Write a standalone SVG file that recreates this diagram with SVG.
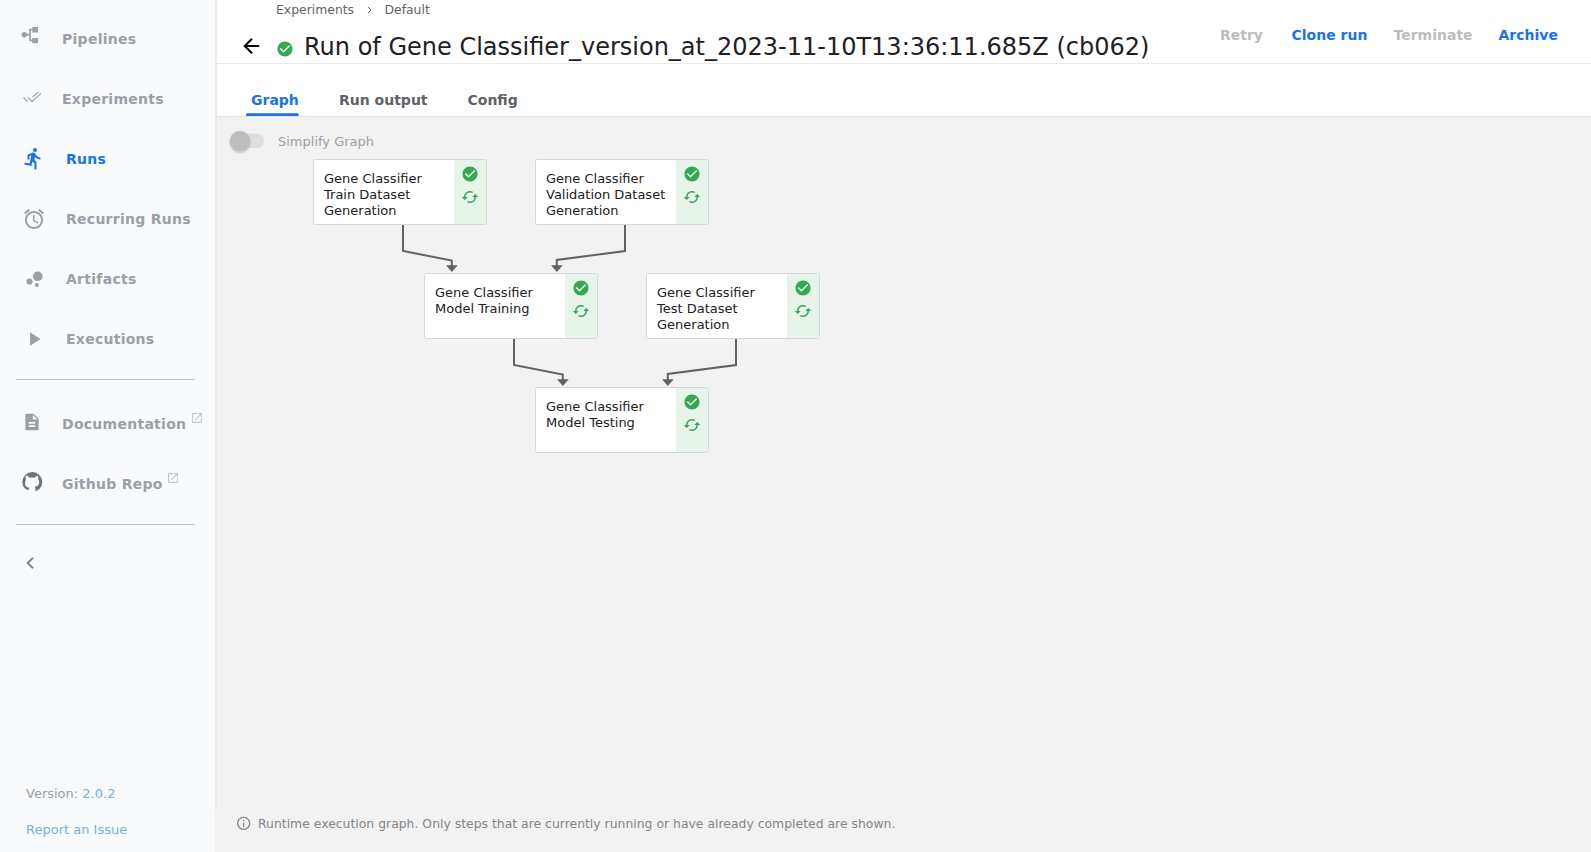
<svg xmlns="http://www.w3.org/2000/svg" width="1591" height="852" viewBox="0 0 1591 852">
<style>
text{font-family:"DejaVu Sans",sans-serif}
.nav{font-size:14px;font-weight:700;fill:#9aa0a6;letter-spacing:.27px}
.tab{font-size:14px;font-weight:700;fill:#5f6368}
.act{font-size:14px;font-weight:700}
.lbl{font-size:13px;fill:#202124}
.box{fill:#fff;stroke:#d5d7d9;stroke-width:1}
.strip{fill:#e6f4ea}
.edge{fill:none;stroke:#5f6368;stroke-width:2}
.head{fill:#5f6368}
.ok{fill:#34a853}
.ic{fill:#9aa0a6}
</style>
<defs>
<path id="check" d="M12 2C6.48 2 2 6.48 2 12s4.48 10 10 10 10-4.48 10-10S17.52 2 12 2zm-2 15l-5-5 1.41-1.41L10 14.17l7.59-7.59L19 8l-9 9z"/>
<g id="status">
<use href="#check" class="ok" transform="translate(-9,-9) scale(.75)"/>
<path class="ok" transform="translate(-9,14) scale(.75)" d="M19 8l-4 4h3c0 3.31-2.69 6-6 6-1.01 0-1.97-.25-2.8-.7l-1.46 1.46C8.97 19.54 10.43 20 12 20c4.42 0 8-3.58 8-8h3l-4-4zM6 12c0-3.31 2.69-6 6-6 1.01 0 1.97.25 2.8.7l1.46-1.46C15.03 4.46 13.57 4 12 4c-4.42 0-8 3.58-8 8H1l4 4 4-4H6z"/>
</g>
<path id="ext" transform="scale(.55) translate(-12,-12)" fill="#c4c6c9" d="M19 19H5V5h7V3H5c-1.11 0-2 .9-2 2v14c0 1.1.89 2 2 2h14c1.1 0 2-.9 2-2v-7h-2v7zM14 3v2h3.59l-9.83 9.83 1.41 1.41L19 6.41V10h2V3h-7z"/>
<filter id="sh" x="-30%" y="-30%" width="160%" height="170%"><feDropShadow dx="0" dy="1" stdDeviation="1" flood-color="#000" flood-opacity=".25"/></filter>
</defs>
<rect width="1591" height="852" fill="#fff"/>
<rect id="sidebar" x="0" y="0" width="215" height="852" fill="#f8fafc"/>
<rect x="217" y="117" width="1374" height="735" fill="#f2f2f2"/>
<rect x="215" y="811" width="2" height="41" fill="#f2f2f2"/>
<rect x="215" y="0" width="2" height="811" fill="#e8eaed"/>
<rect x="217" y="116" width="1374" height="1" fill="#e4e4e4"/>
<rect x="217" y="63" width="1374" height="1" fill="#eaeaea"/>

<g id="nav">
<g id="nav-pipelines"><circle cx="24.300" cy="34.700" r="2.700" class="ic"/><path d="M26 34.700H30M34 29.500H30V40.500H34" fill="none" stroke="#9aa0a6" stroke-width="1.700"/><rect x="32.300" y="27" width="5.700" height="5.500" class="ic"/><rect x="32.300" y="38" width="5.700" height="5.200" class="ic"/><text x="62" y="44" class="nav">Pipelines</text></g>
<g id="nav-experiments"><path d="M23.500 97.500L27.500 101.500M28 97.500L32 101.500L41 93.500M32.500 97L38.500 92" fill="none" stroke="#a3a8ad" stroke-width="1.300"/><text x="62" y="104" class="nav">Experiments</text></g>
<g id="nav-runs"><path transform="translate(21.500,146.500)" fill="#1a73e8" d="M13.490 5.480c1.100 0 2-.9 2-2s-.9-2-2-2-2 .9-2 2 .9 2 2 2zm-3.600 13.900l1-4.400 2.100 2v6h2v-7.500l-2.100-2 .6-3c1.300 1.500 3.300 2.500 5.500 2.500v-2c-1.900 0-3.500-1-4.300-2.400l-1-1.600c-.4-.6-1-1-1.700-1-.3 0-.5.1-.8.1l-5.200 2.200v4.700h2v-3.400l1.800-.7-1.600 8.100-4.900-1-.4 2 7 1.400z"/><text x="66" y="164" class="nav" style="fill:#1a73e8">Runs</text></g>
<g id="nav-recurring"><path transform="translate(22,207)" class="ic" d="M22 5.720l-4.600-3.860-1.290 1.530 4.600 3.860L22 5.720zM7.880 3.390L6.600 1.860 2 5.710l1.290 1.530 4.590-3.850zM12.500 8H11v6l4.750 2.850.75-1.230-4-2.370V8zM12 4c-4.970 0-9 4.030-9 9s4.030 9 9 9 9-4.030 9-9-4.030-9-9-9zm0 16c-3.870 0-7-3.130-7-7s3.130-7 7-7 7 3.130 7 7-3.130 7-7 7z"/><text x="66" y="224" class="nav">Recurring Runs</text></g>
<g id="nav-artifacts"><circle cx="37.700" cy="276.300" r="4.800" class="ic"/><circle cx="29.500" cy="281.500" r="3.100" class="ic"/><circle cx="36.800" cy="285" r="2" class="ic"/><text x="66" y="284" class="nav">Artifacts</text></g>
<g id="nav-executions"><path d="M30 332.300v13.400l10.700-6.700Z" class="ic"/><text x="66" y="344" class="nav">Executions</text></g>
<rect x="16" y="379" width="179" height="1" fill="#bdc1c6"/>
<g id="nav-docs"><path transform="translate(22,412) scale(.8333)" class="ic" d="M14 2H6c-1.100 0-1.990.9-1.990 2L4 20c0 1.100.89 2 1.990 2H18c1.100 0 2-.9 2-2V8l-6-6zm2 16H8v-2h8v2zm0-4H8v-2h8v2zm-3-5V3.500L18.500 9H13z"/><text x="62" y="429" class="nav">Documentation</text><use href="#ext" x="197" y="418"/></g>
<g id="nav-github"><circle cx="32.300" cy="482" r="10" fill="#6f7377"/><path fill="#f8fafc" d="M26.700 475.500l3.600 2.200q2-.5 4 0l3.600-2.200q.6 2 .3 3.500q1.300 1.700 .9 4.200q-.7 3.200 -4.500 3.600q.9 .9 .9 2.400v3h-1.500v2h-5.400v-2l-1.200 0q-2.500 0-3.500-2.300l2-1.200q1 1.500 2.800 1.300q0-1.500 .8-2.200q-3.800-.4-4.500-3.600q-.4-2.500 .9-4.200q-.3-1.500 -.2-4.500Z"/><text x="62" y="489" class="nav">Github Repo</text><use href="#ext" x="173" y="478"/></g>
<rect x="16" y="524" width="179" height="1" fill="#bdc1c6"/>
<path id="collapse" transform="translate(18.300,551)" fill="#80868b" d="M15.410 7.410L14 6l-6 6 6 6 1.410-1.410L10.830 12z"/>
<text x="26" y="798" font-size="13" fill="#9aa0a6">Version: <tspan fill="#7baee0">2.0.2</tspan></text>
<text x="26" y="834" font-size="13" fill="#7baee0">Report an Issue</text>
</g>

<g id="header">
<text x="276" y="14" font-size="12.400" fill="#5f6368">Experiments</text>
<path d="M368 7l3 3-3 3" fill="none" stroke="#5f6368" stroke-width="1"/>
<text x="384.500" y="14" font-size="12.400" fill="#5f6368">Default</text>
<path transform="translate(239.300,34)" fill="#000" d="M20 11H7.830l5.590-5.590L12 4l-8 8 8 8 1.410-1.410L7.830 13H20v-2z"/>
<use href="#check" class="ok" transform="translate(276,40) scale(.75)"/>
<text x="304" y="55" font-size="24" fill="#202124">Run of Gene Classifier_version_at_2023-11-10T13:36:11.685Z (cb062)</text>
<text x="1220" y="40" class="act" fill="#bdbdbd">Retry</text>
<text x="1291.500" y="40" class="act" fill="#1a73e8">Clone run</text>
<text x="1393.500" y="40" class="act" fill="#bdbdbd">Terminate</text>
<text x="1498.500" y="40" class="act" fill="#1a73e8">Archive</text>
<text x="251" y="105" class="tab" style="fill:#1a73e8">Graph</text>
<text x="339" y="105" class="tab">Run output</text>
<text x="467.500" y="105" class="tab">Config</text>
<path d="M246 116v-1.200a1.500 1.500 0 0 1 1.500-1.500h49.700a1.500 1.500 0 0 1 1.500 1.500V116Z" fill="#1a73e8"/>
<rect x="230" y="133.500" width="34" height="14.500" rx="7.200" fill="#dedede"/>
<circle cx="240" cy="141.200" r="10.300" fill="#bdbdbd" filter="url(#sh)"/>
<text x="278" y="146" font-size="13" fill="#9aa0a6">Simplify Graph</text>
</g>

<g id="connectors">
<path class="edge" d="M403 225V251L451.800 260.500V267"/><path class="head" d="M446 265.300h11.700l-5.850 6.700Z"/>
<path class="edge" d="M625 225V251L556.800 260V267"/><path class="head" d="M551 265.300h11.700l-5.850 6.700Z"/>
<path class="edge" d="M514 339V365L562.800 374.500V381"/><path class="head" d="M557 379.300h11.700l-5.850 6.700Z"/>
<path class="edge" d="M736 339V365L667.800 374V381"/><path class="head" d="M662 379.300h11.700l-5.850 6.700Z"/>
</g>

<g id="node-train"><rect class="box" x="313.500" y="159.500" width="173" height="65" rx="2"/><path class="strip" d="M454 160h32v64h-32Z"/><text class="lbl" x="324" y="183">Gene Classifier</text><text class="lbl" x="324" y="199">Train Dataset</text><text class="lbl" x="324" y="215">Generation</text><use href="#status" x="470" y="174"/></g>
<g id="node-validation"><rect class="box" x="535.500" y="159.500" width="173" height="65" rx="2"/><path class="strip" d="M676 160h32v64h-32Z"/><text class="lbl" x="546" y="183">Gene Classifier</text><text class="lbl" x="546" y="199">Validation Dataset</text><text class="lbl" x="546" y="215">Generation</text><use href="#status" x="692" y="174"/></g>
<g id="node-training"><rect class="box" x="424.500" y="273.500" width="173" height="65" rx="2"/><path class="strip" d="M565 274h32v64h-32Z"/><text class="lbl" x="435" y="297">Gene Classifier</text><text class="lbl" x="435" y="313">Model Training</text><use href="#status" x="581" y="288"/></g>
<g id="node-test"><rect class="box" x="646.500" y="273.500" width="173" height="65" rx="2"/><path class="strip" d="M787 274h32v64h-32Z"/><text class="lbl" x="657" y="297">Gene Classifier</text><text class="lbl" x="657" y="313">Test Dataset</text><text class="lbl" x="657" y="329">Generation</text><use href="#status" x="803" y="288"/></g>
<g id="node-testing"><rect class="box" x="535.500" y="387.500" width="173" height="65" rx="2"/><path class="strip" d="M676 388h32v64h-32Z"/><text class="lbl" x="546" y="411">Gene Classifier</text><text class="lbl" x="546" y="427">Model Testing</text><use href="#status" x="692" y="402"/></g>

<g id="footer">
<path transform="translate(235.700,815.300) scale(.667)" fill="#80868b" d="M11 7h2v2h-2zm0 4h2v6h-2zm1-9C6.480 2 2 6.480 2 12s4.480 10 10 10 10-4.480 10-10S17.520 2 12 2zm0 18c-4.410 0-8-3.590-8-8s3.590-8 8-8 8 3.590 8 8-3.590 8-8 8z"/>
<text x="258" y="828" font-size="12.410" fill="#80868b">Runtime execution graph. Only steps that are currently running or have already completed are shown.</text>
</g>
</svg>
